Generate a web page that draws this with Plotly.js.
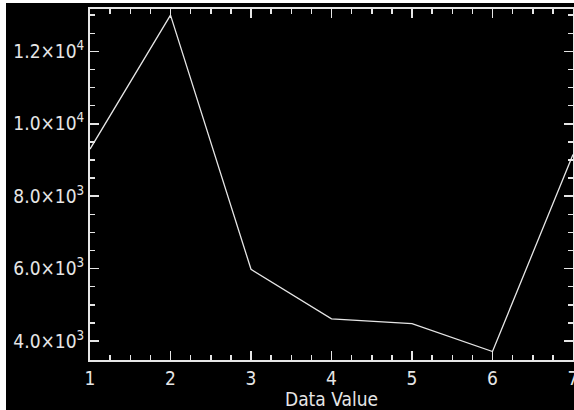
<!DOCTYPE html>
<html>
<head>
<meta charset="utf-8">
<script src="https://cdn.plot.ly/plotly-3.0.1.min.js"></script>
<style>
html,body{margin:0;padding:0;background:#ffffff;}
#chart{position:absolute;left:6px;top:3px;width:568px;height:407px;}
</style>
</head>
<body>
<div id="chart"></div>
<script>
var xValues = [1, 2, 3, 4, 5, 6, 7];
var yValues = [9300, 13000, 5980, 4610, 4480, 3710, 9150];
var yTickVals = [4000, 6000, 8000, 10000, 12000];
var yTickText = ["4.0×10<sup>3</sup>", "6.0×10<sup>3</sup>", "8.0×10<sup>3</sup>", "1.0×10<sup>4</sup>", "1.2×10<sup>4</sup>"];
var xTitle = "Data Value";

var fg = "#e6e6e6";
var fontFam = "'Liberation Sans Narrow', 'DejaVu Sans Condensed', 'DejaVu Sans', sans-serif";

var trace = {
  x: xValues, y: yValues, type: "scatter", mode: "lines",
  line: {color: fg, width: 1.3}, hoverinfo: "skip"
};

var layout = {
  width: 568, height: 407,
  margin: {l: 84, r: 1, t: 6, b: 50},
  paper_bgcolor: "#000000", plot_bgcolor: "#000000",
  showlegend: false,
  font: {family: fontFam, color: fg, size: 19},
  xaxis: {
    range: [1, 7], tickmode: "linear", tick0: 1, dtick: 1,
    ticklabeloverflow: "allow",
    ticks: "inside", ticklen: 9, tickwidth: 1.5, tickcolor: fg,
    showline: true, linecolor: fg, linewidth: 2, mirror: "allticks",
    showgrid: false, zeroline: false,
    minor: {ticks: "inside", dtick: 0.25, ticklen: 5, tickwidth: 1.5, tickcolor: fg},
    tickfont: {family: fontFam, size: 19, color: fg},
    title: {text: xTitle, font: {family: fontFam, size: 19, color: fg}, standoff: 0}
  },
  yaxis: {
    range: [3475, 13170], tickmode: "array", tickvals: yTickVals, ticktext: yTickText,
    ticklabeloverflow: "allow",
    ticks: "inside", ticklen: 9, tickwidth: 1.5, tickcolor: fg,
    showline: true, linecolor: fg, linewidth: 2, mirror: "allticks",
    showgrid: false, zeroline: false,
    minor: {ticks: "inside", dtick: 500, ticklen: 5, tickwidth: 1.5, tickcolor: fg},
    tickfont: {family: fontFam, size: 19, color: fg}
  }
};

Plotly.newPlot("chart", [trace], layout, {displayModeBar: false, staticPlot: true});
</script>
</body>
</html>
